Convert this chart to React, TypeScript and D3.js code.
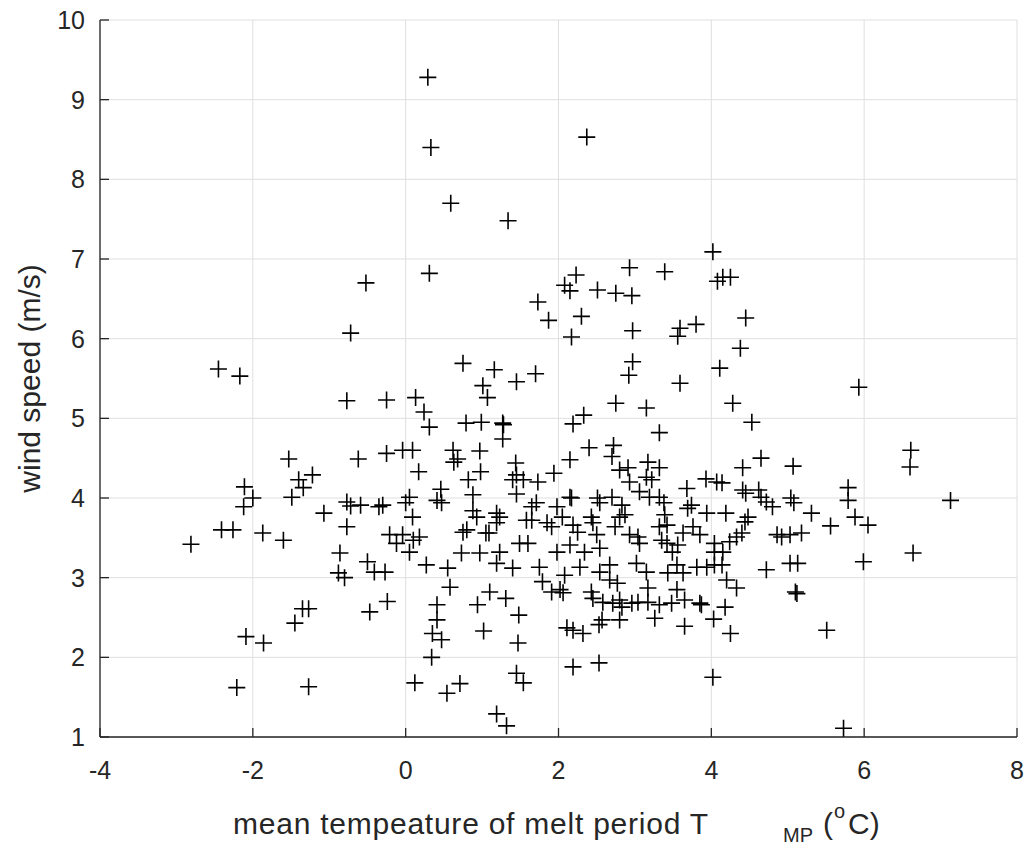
import React from "react";
import * as d3 from "d3";

// mean temperature of melt period (deg C)
const tempMP = [
  0.29, 0.33, 2.37, 0.59, 1.34, 0.31, 2.23, 2.93, 3.39, 2.08, 2.15, 2.51, 2.75, 2.96, 1.73, 1.87, 2.3, 2.17, 2.97, 3.59,
  3.56, 3.8, 0.75, 1.16, 1.7, 2.97, 2.92, -0.52, -0.72, -2.45, -2.17, 4.02, 4.08, 4.15, 4.25, 4.45, 4.38, 4.11,
  -0.77, -0.25, -1.53, -0.62, -0.25, -2.11, -1.4, -1.22, -1.34, -2.0, -2.12, -1.49, -1.07, -0.77, -0.72, -0.59, -0.35,
  -0.3, -0.77, -0.86, -0.21, -0.12, -2.41, -2.26, -2.81, -1.87, -1.6, -0.88, -0.8, -0.5, -0.41, -0.27, -1.35, -1.27,
  -1.45, -0.47, -0.24, -2.09, -1.86, -2.21, -1.27,
  1.01, 1.45, 1.07, 0.13, 0.24, 0.31, 0.79, 0.99, 1.27, 1.28, 1.27, -0.04, 0.09, 0.62, 0.68, 0.63, 0.97, 0.17, 0.98,
  1.44, 1.45, 1.54, 1.73, 1.94, 1.4, 0.82, 0.46, 0.88, 1.45, 0.05, 0.41, 0.47, 0.0, 0.09, 0.88, 0.93, 1.19, 1.23, 1.19,
  1.05, 1.09, 0.8, 0.75, -0.04, 0.18, 0.1, 1.65, 1.71, 1.58, 1.65, 1.85, 1.91, 1.98, 1.6, 1.49, 1.23, 0.97, 0.73, 0.05,
  1.98,
  2.75, 3.15, 2.19, 2.33, 3.59, 3.32, 2.4, 2.72, 2.15, 2.7, 2.8, 2.91, 3.17, 3.32, 3.15, 3.22, 2.93, 3.06, 3.68, 3.93,
  4.07, 3.19, 3.32, 2.7, 2.51, 2.54, 2.15, 2.17, 2.83, 3.38, 3.69, 3.74, 3.94, 2.87, 2.8, 3.39, 3.42, 3.32, 2.43, 2.45,
  2.19, 2.25, 2.74, 2.05, 2.5, 2.93, 3.04, 3.06, 3.35, 3.42, 3.63, 3.76, 3.85, 3.56, 3.49, 2.15, 2.34, 2.54, 4.04, 4.04,
  4.28, 4.53, 5.93, 4.65, 4.41, 5.07, 4.14, 4.41, 4.45, 4.62, 4.65, 4.72, 4.8, 5.04, 5.08, 5.31, 5.79, 5.79, 5.88, 6.05,
  5.56, 4.19, 4.48, 4.44, 4.4, 4.33, 4.24, 4.86, 4.92, 5.03, 5.18, 4.15,
  0.27, 0.55, 1.19, 1.4, 1.75, 0.58, 1.1, 1.31, 0.94, 0.41, 1.48, 0.41, 1.02, 0.35, 0.47, 1.47, 0.34, 1.79, 1.91, 0.12,
  0.54, 0.71, 1.45, 1.54, 1.19, 1.32,
  2.19, 2.53, 4.02, 2.11, 2.19, 2.32, 2.53, 2.57, 2.8, 3.26, 3.65, 4.03, 2.43, 2.45, 2.58, 2.71, 2.8, 2.83, 2.96, 3.04,
  3.17, 3.17, 3.32, 3.48, 3.55, 3.65, 3.85, 3.87, 2.02, 2.06, 2.08, 2.28, 2.54, 2.67, 2.67, 2.77, 3.02, 3.15, 3.43,
  3.55, 3.63, 3.81, 3.94, 4.04,
  4.18, 4.25, 4.33, 4.2, 5.1, 5.12, 5.51, 5.73, 4.72, 5.03, 5.13, 5.99, 4.14,
  6.61, 6.6, 7.13, 6.64,
];

// wind speed (m/s)
const windSpeed = [
  9.28, 8.4, 8.53, 7.7, 7.48, 6.82, 6.8, 6.89, 6.84, 6.67, 6.6, 6.61, 6.57, 6.54, 6.46, 6.23, 6.28, 6.02, 6.1, 6.13,
  6.03, 6.18, 5.69, 5.61, 5.56, 5.71, 5.54, 6.7, 6.07, 5.62, 5.53, 7.09, 6.72, 6.77, 6.77, 6.26, 5.88, 5.63,
  5.22, 5.23, 4.49, 4.49, 4.56, 4.14, 4.23, 4.29, 4.13, 4.0, 3.89, 4.01, 3.81, 3.95, 3.9, 3.91, 3.89,
  3.91, 3.64, 3.31, 3.54, 3.43, 3.6, 3.6, 3.42, 3.56, 3.47, 3.06, 3.0, 3.2, 3.07, 3.07, 2.61, 2.61,
  2.43, 2.57, 2.7, 2.26, 2.18, 1.62, 1.63,
  5.41, 5.46, 5.26, 5.26, 5.08, 4.89, 4.94, 4.95, 4.94, 4.92, 4.74, 4.6, 4.6, 4.6, 4.49, 4.45, 4.59, 4.33, 4.33,
  4.44, 4.29, 4.23, 4.2, 4.31, 4.23, 4.23, 4.11, 4.04, 4.05, 4.01, 3.97, 3.94, 3.94, 3.76, 3.84, 3.76, 3.81, 3.76, 3.69,
  3.56, 3.56, 3.6, 3.57, 3.54, 3.51, 3.47, 3.89, 3.94, 3.72, 3.72, 3.69, 3.64, 3.89, 3.43, 3.43, 3.32, 3.31, 3.31, 3.32,
  3.32,
  5.19, 5.13, 4.93, 5.04, 5.44, 4.82, 4.63, 4.66, 4.48, 4.52, 4.35, 4.38, 4.45, 4.38, 4.26, 4.23, 4.2, 4.08, 4.12, 4.24,
  4.2, 4.01, 4.01, 4.01, 4.0, 3.94, 4.01, 4.0, 3.91, 3.94, 3.87, 3.91, 3.81, 3.79, 3.76, 3.79, 3.66, 3.64, 3.76, 3.69,
  3.66, 3.57, 3.64, 3.76, 3.54, 3.54, 3.51, 3.43, 3.47, 3.43, 3.56, 3.64, 3.54, 3.41, 3.32, 3.41, 3.32, 3.37, 3.43, 3.32,
  5.19, 4.95, 5.39, 4.5, 4.38, 4.4, 4.19, 4.1, 4.06, 4.1, 4.01, 3.95, 3.89, 4.0, 3.94, 3.81, 4.13, 3.97, 3.76, 3.66,
  3.65, 3.81, 3.76, 3.7, 3.56, 3.51, 3.45, 3.54, 3.51, 3.54, 3.56, 3.32,
  3.16, 3.12, 3.18, 3.12, 3.13, 2.88, 2.82, 2.74, 2.66, 2.66, 2.53, 2.47, 2.33, 2.3, 2.22, 2.18, 2.0, 2.95, 2.82, 1.68,
  1.55, 1.67, 1.8, 1.68, 1.29, 1.14,
  1.88, 1.93, 1.75, 2.37, 2.34, 2.3, 2.41, 2.47, 2.47, 2.49, 2.39, 2.48, 2.82, 2.74, 2.69, 2.68, 2.72, 2.63, 2.68, 2.69,
  2.87, 2.69, 2.66, 2.68, 2.85, 2.72, 2.68, 2.66, 2.85, 2.81, 3.03, 3.13, 3.07, 3.16, 2.97, 2.93, 3.18, 3.07, 3.06,
  3.16, 3.06, 3.13, 3.13, 3.16,
  2.63, 2.3, 2.87, 2.97, 2.82, 2.8, 2.34, 1.11, 3.1, 3.18, 3.18, 3.2, 3.16,
  4.6, 4.39, 3.97, 3.31,
];

const xTicks = [-4, -2, 0, 2, 4, 6, 8];
const yTicks = [1, 2, 3, 4, 5, 6, 7, 8, 9, 10];

const W = 1029;
const H = 846;
const left = 100;
const right = 1017;
const top = 20;
const bottom = 737;

export default function App() {
  const x = d3.scaleLinear().domain([-4, 8]).range([left, right]);
  const y = d3.scaleLinear().domain([1, 10]).range([bottom, top]);
  const font = "'Liberation Sans', Arial, Helvetica, sans-serif";
  const axisColor = "#262626";
  const m = 8.5; // marker half size

  return (
    <svg
      width={W}
      height={H}
      style={{ position: "absolute", left: 0, top: 0, background: "#fff" }}
      fontFamily={font}
    >
      <rect x={0} y={0} width={W} height={H} fill="#fff" />
      {/* grid */}
      <g stroke="#dfdfdf" strokeWidth={1}>
        {xTicks.map((t) => (
          <line key={"gx" + t} x1={x(t)} x2={x(t)} y1={top} y2={bottom} />
        ))}
        {yTicks.map((t) => (
          <line key={"gy" + t} x1={left} x2={right} y1={y(t)} y2={y(t)} />
        ))}
      </g>
      {/* axes */}
      <g stroke={axisColor} strokeWidth={1.3}>
        <line x1={left} x2={right} y1={bottom} y2={bottom} />
        <line x1={left} x2={left} y1={top} y2={bottom} />
        {xTicks.map((t) => (
          <line key={"tx" + t} x1={x(t)} x2={x(t)} y1={bottom} y2={bottom - 9} />
        ))}
        {yTicks.map((t) => (
          <line key={"ty" + t} x1={left} x2={left + 9} y1={y(t)} y2={y(t)} />
        ))}
      </g>
      <g fill={axisColor} fontSize={25}>
        {xTicks.map((t) => (
          <text key={"lx" + t} x={x(t)} y={bottom + 42} textAnchor="middle">
            {t}
          </text>
        ))}
        {yTicks.map((t) => (
          <text key={"ly" + t} x={left - 15} y={y(t) + 9} textAnchor="end">
            {t}
          </text>
        ))}
      </g>
      {/* points */}
      <g stroke="#000" strokeWidth={1.6}>
        {tempMP.map((v, i) => {
          const cx = x(v);
          const cy = y(windSpeed[i]);
          return (
            <path key={i} d={`M${cx - m},${cy}H${cx + m}M${cx},${cy - m}V${cy + m}`} />
          );
        })}
      </g>
      {/* labels */}
      <text
        transform={`translate(40,${(top + bottom) / 2}) rotate(-90)`}
        textAnchor="middle"
        fontSize={30}
        fill={axisColor}
      >
        wind speed (m/s)
      </text>
      <g fill={axisColor} fontSize={30}>
        <text x={233} y={834} textLength={475}>
          mean tempeature of melt period T
        </text>
        <text x={783} y={842} fontSize={20}>MP</text>
        <text x={823} y={834}>(</text>
        <text x={834} y={818} fontSize={20}>o</text>
        <text x={848} y={834}>C)</text>
      </g>
    </svg>
  );
}
